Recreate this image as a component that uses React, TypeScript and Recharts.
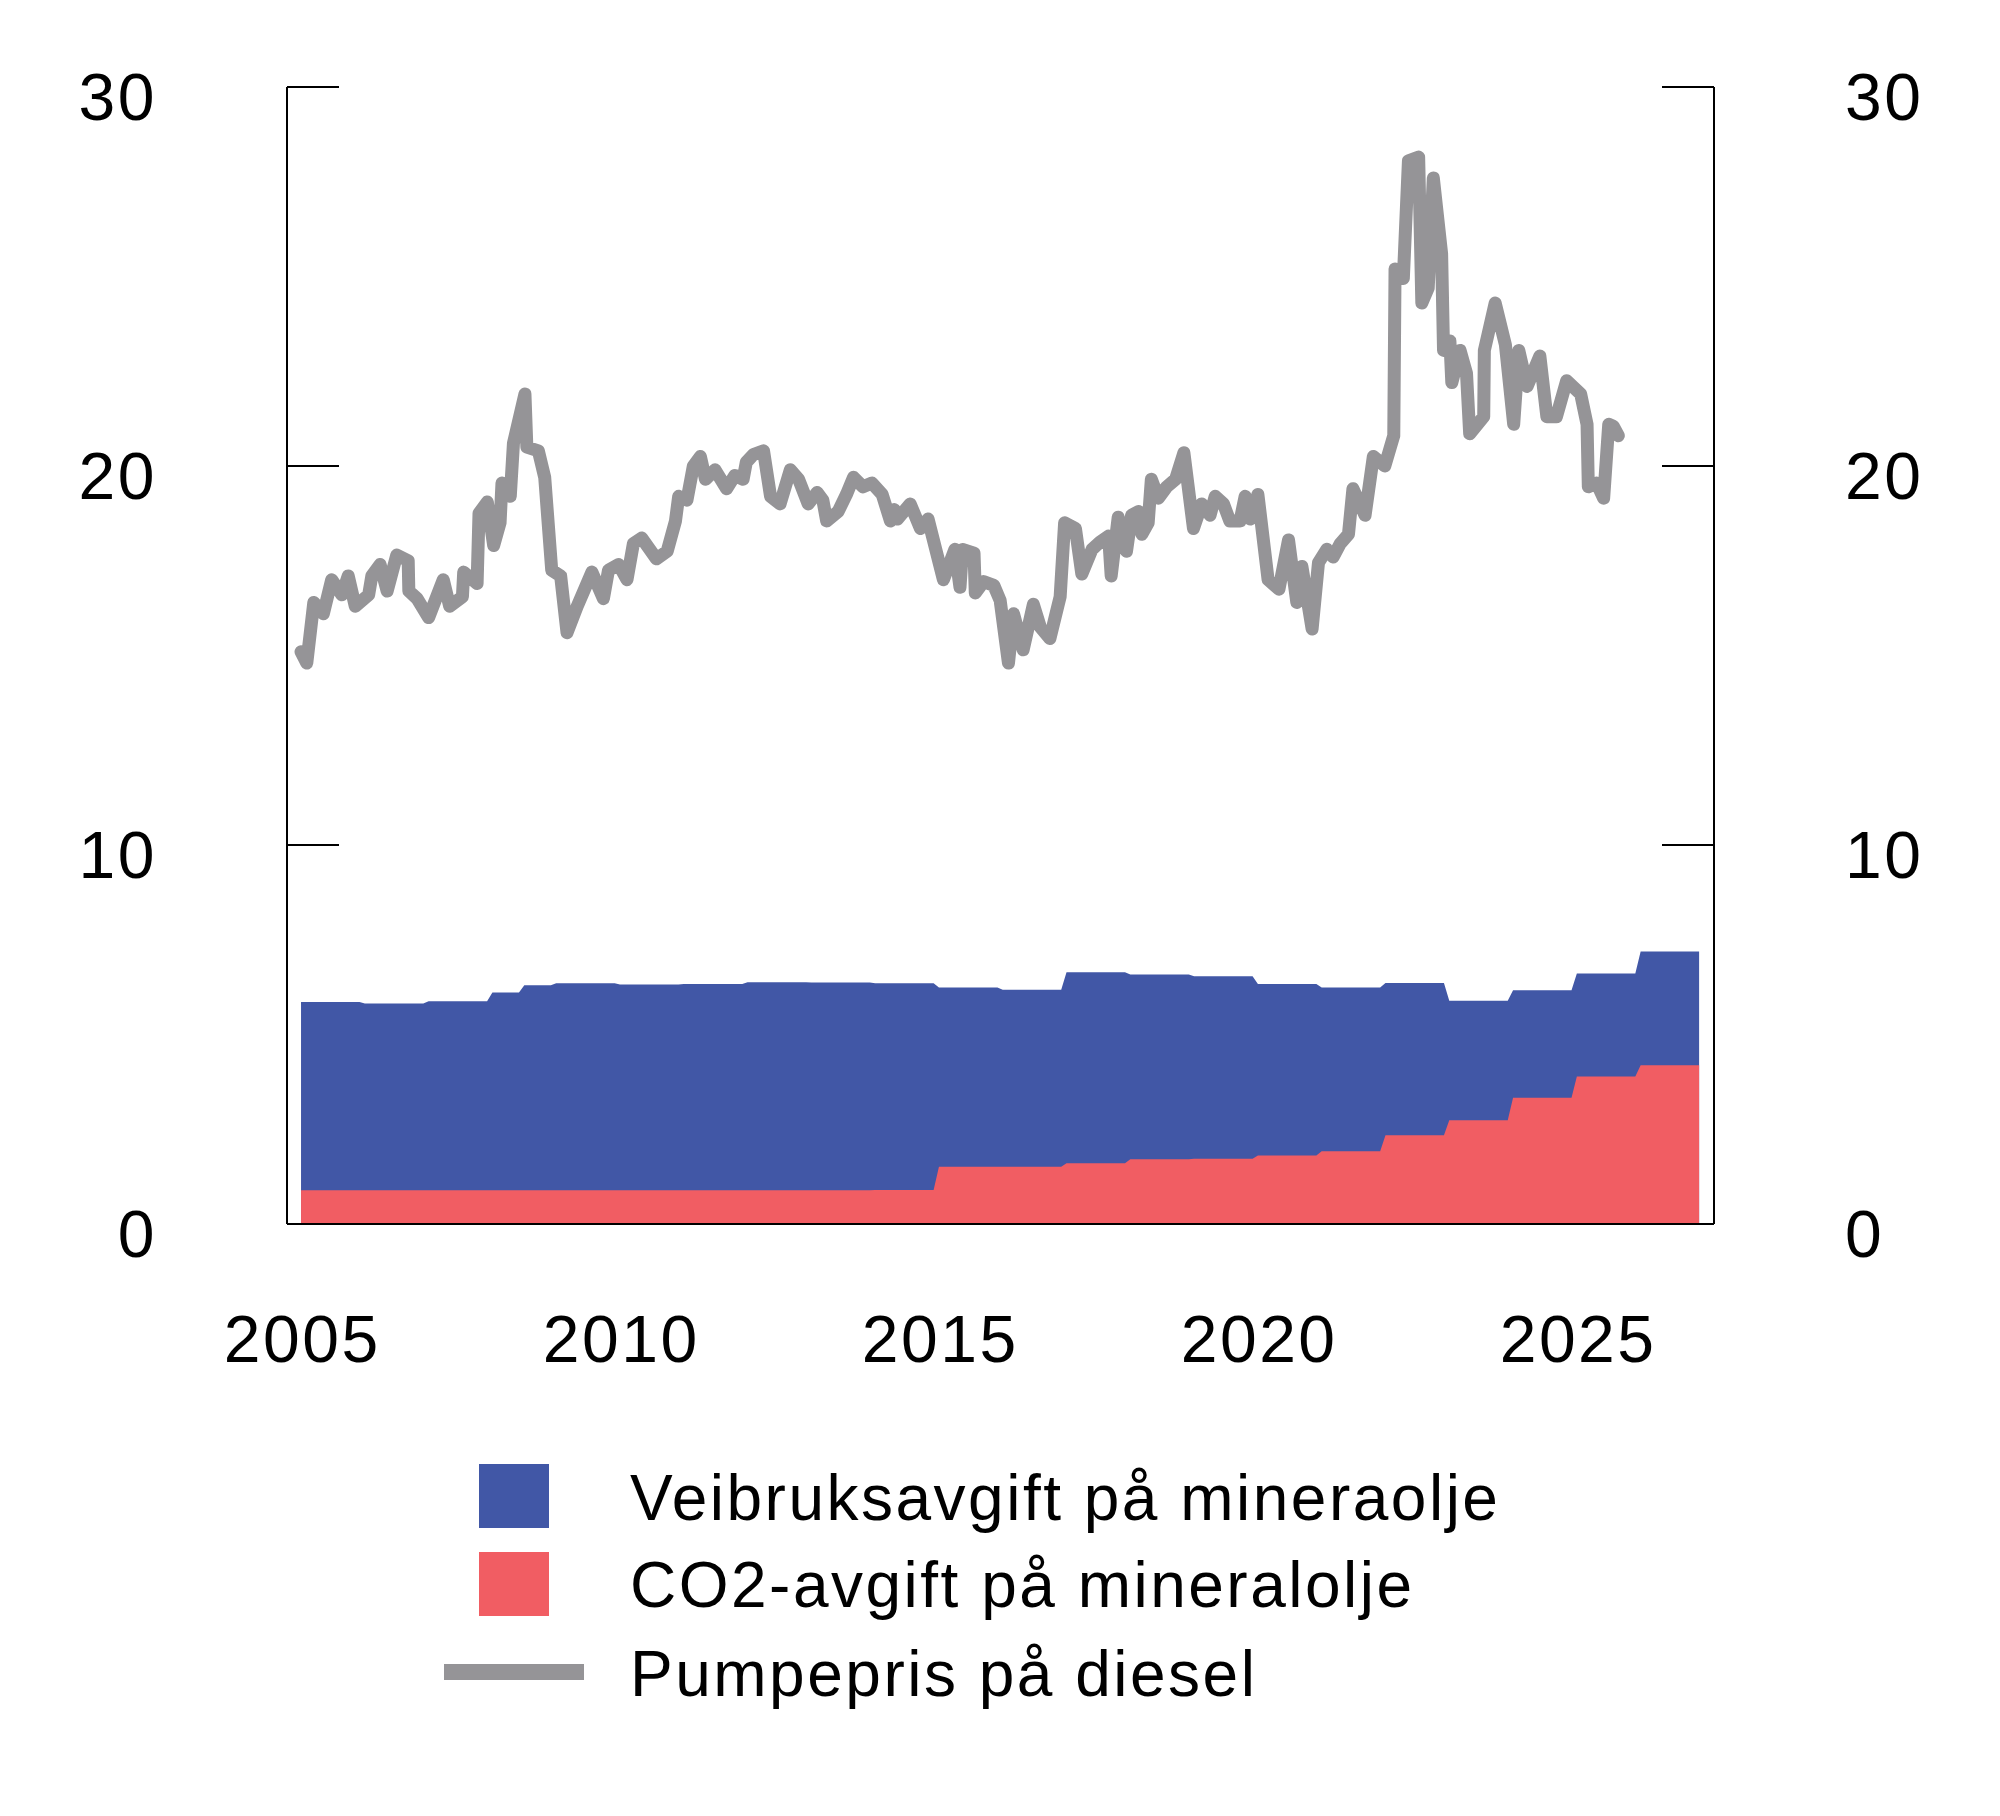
import React from "react"
import {
  ComposedChart,
  Area,
  Line,
  XAxis,
  YAxis
} from "recharts"

// Tax components (NOK per litre), one value per period
const taxPeriods: [number, number][] = [
  [2005, 2005 + 11 / 12],
  [2006, 2006 + 11 / 12],
  [2007, 2007 + 11 / 12],
  [2008, 2008 + 5 / 12],
  [2008.5, 2008 + 11 / 12],
  [2009, 2009 + 11 / 12],
  [2010, 2010 + 11 / 12],
  [2011, 2011 + 11 / 12],
  [2012, 2012 + 11 / 12],
  [2013, 2013 + 11 / 12],
  [2014, 2014 + 11 / 12],
  [2015, 2015 + 11 / 12],
  [2016, 2016 + 11 / 12],
  [2017, 2017 + 11 / 12],
  [2018, 2018 + 11 / 12],
  [2019, 2019 + 11 / 12],
  [2020, 2020 + 11 / 12],
  [2021, 2021 + 11 / 12],
  [2022, 2022 + 11 / 12],
  [2023, 2023 + 11 / 12],
  [2024, 2024 + 11 / 12],
  [2025, 2025 + 11 / 12],
  [2026, 2026 + 11 / 12]
]
const co2Tax = [
  0.89, 0.89, 0.89, 0.89, 0.89, 0.89, 0.89, 0.89, 0.89, 0.89, 0.9, 1.51,
  1.51, 1.6, 1.71, 1.72, 1.81, 1.92, 2.34, 2.74, 3.33, 3.89, 4.19
]
const roadTax = [
  4.97, 4.93, 4.99, 5.22, 5.41, 5.46, 5.43, 5.44, 5.49, 5.48, 5.45, 4.73,
  4.67, 5.04, 4.87, 4.82, 4.52, 4.32, 4.02, 3.15, 2.84, 2.72, 3.0
]

// Pump price of diesel
const priceTime = [
  2005.0, 2005.09, 2005.2, 2005.35, 2005.48, 2005.64, 2005.74, 2005.85,
  2006.06, 2006.11, 2006.24, 2006.35, 2006.5, 2006.68, 2006.69, 2006.82,
  2007.0, 2007.23, 2007.33, 2007.53, 2007.55, 2007.76, 2007.79, 2007.92,
  2008.02, 2008.12, 2008.15, 2008.28, 2008.33, 2008.51, 2008.54, 2008.72,
  2008.82, 2008.93, 2009.07, 2009.17, 2009.33, 2009.56, 2009.74, 2009.82,
  2009.98, 2010.11, 2010.21, 2010.34, 2010.57, 2010.74, 2010.87, 2010.92,
  2011.05, 2011.15, 2011.26, 2011.34, 2011.49, 2011.67, 2011.8, 2011.93,
  2011.98, 2012.09, 2012.25, 2012.36, 2012.51, 2012.67, 2012.8, 2012.95,
  2013.09, 2013.18, 2013.24, 2013.42, 2013.55, 2013.66, 2013.81, 2013.95,
  2014.11, 2014.24, 2014.3, 2014.35, 2014.55, 2014.71, 2014.83, 2015.07,
  2015.25, 2015.33, 2015.37, 2015.55, 2015.57, 2015.7, 2015.86, 2015.96,
  2016.09, 2016.17, 2016.32, 2016.48, 2016.59, 2016.74, 2016.9, 2016.97,
  2017.14, 2017.24, 2017.4, 2017.53, 2017.66, 2017.7, 2017.81, 2017.94,
  2018.02, 2018.13, 2018.18, 2018.28, 2018.33, 2018.44, 2018.57, 2018.71,
  2018.84, 2018.99, 2019.12, 2019.25, 2019.33, 2019.46, 2019.56, 2019.72,
  2019.8, 2019.88, 2020.0, 2020.16, 2020.33, 2020.48, 2020.61, 2020.69,
  2020.85, 2020.95, 2021.08, 2021.18, 2021.29, 2021.42, 2021.49, 2021.68,
  2021.81, 2021.99, 2022.13, 2022.15, 2022.28, 2022.36, 2022.52, 2022.57,
  2022.67, 2022.75, 2022.88, 2022.91, 2023.01, 2023.04, 2023.17, 2023.27,
  2023.32, 2023.54, 2023.55, 2023.72, 2023.88, 2024.01, 2024.09, 2024.22,
  2024.42, 2024.53, 2024.68, 2024.84, 2025.06, 2025.16, 2025.18, 2025.31,
  2025.42, 2025.5, 2025.57, 2025.65
]
const priceValue = [
  15.1, 14.8, 16.4, 16.1, 17.0, 16.6, 17.1, 16.3,
  16.6, 17.1, 17.4, 16.7, 17.65, 17.5, 16.7, 16.5,
  16.0, 17.0, 16.3, 16.55, 17.2, 16.9, 18.75, 19.05,
  17.9, 18.5, 19.55, 19.2, 20.6, 21.9, 20.5, 20.4,
  19.7, 17.25, 17.1, 15.6, 16.3, 17.2, 16.5, 17.25,
  17.4, 17.0, 17.95, 18.1, 17.55, 17.75, 18.55, 19.2,
  19.1, 20.0, 20.25, 19.65, 19.9, 19.4, 19.75, 19.65,
  20.1, 20.3, 20.4, 19.2, 19.0, 19.9, 19.65, 19.0,
  19.3, 19.1, 18.55, 18.8, 19.25, 19.7, 19.45, 19.55,
  19.25, 18.55, 18.85, 18.6, 19.0, 18.35, 18.6, 17.0,
  17.8, 16.8, 17.8, 17.7, 16.65, 16.95, 16.85, 16.45,
  14.8, 16.1, 15.15, 16.35, 15.75, 15.45, 16.55, 18.5,
  18.35, 17.15, 17.8, 18.0, 18.15, 17.1, 18.65, 17.75,
  18.7, 18.8, 18.2, 18.5, 19.65, 19.15, 19.45, 19.65,
  20.35, 18.35, 19.0, 18.7, 19.2, 19.0, 18.55, 18.55,
  19.2, 18.6, 19.25, 17.0, 16.75, 18.05, 16.4, 17.35,
  15.7, 17.45, 17.8, 17.6, 17.95, 18.2, 19.4, 18.7,
  20.25, 20.0, 20.8, 25.2, 24.95, 28.05, 28.15, 24.3,
  24.7, 27.6, 25.6, 23.05, 23.3, 22.2, 23.05, 22.45,
  20.85, 21.3, 23.05, 24.3, 23.2, 21.1, 23.05, 22.1,
  22.9, 21.3, 21.3, 22.25, 21.9, 21.1, 19.45, 19.55,
  19.15, 21.1, 21.05, 20.8
]

const yearTicks = [2005, 2010, 2015, 2020, 2025]
const valueTicks = [0, 10, 20, 30]

const BLUE = "#4157a6"
const RED = "#f15d63"
const GREY = "#959497"
const FONT = "'Liberation Sans', Arial, sans-serif"
const SPACING = 2.5

type Row = { t: number; total?: number; co2?: number; price?: number }

const rows: Row[] = []
taxPeriods.forEach(([from, to], i) => {
  const total = co2Tax[i] + roadTax[i]
  rows.push({ t: from, total, co2: co2Tax[i] })
  rows.push({ t: to, total, co2: co2Tax[i] })
})
priceTime.forEach((t, i) => rows.push({ t, price: priceValue[i] }))
rows.sort((a, b) => a.t - b.t)

const LeftTick = (props: any) => {
  const { x, y, payload } = props
  return (
    <g>
      <line x1={x} x2={x + 52} y1={y} y2={y} stroke="#000" strokeWidth={2} />
      <text x={x - 130} y={y + 33} textAnchor="end" fontSize={66} fontFamily={FONT} letterSpacing={SPACING} fill="#000">
        {payload.value}
      </text>
    </g>
  )
}

const RightTick = (props: any) => {
  const { x, y, payload } = props
  return (
    <g>
      <line x1={x - 52} x2={x} y1={y} y2={y} stroke="#000" strokeWidth={2} />
      <text x={x + 131} y={y + 33} textAnchor="start" fontSize={66} fontFamily={FONT} letterSpacing={SPACING} fill="#000">
        {payload.value}
      </text>
    </g>
  )
}

const YearTick = (props: any) => {
  const { x, y, payload } = props
  return (
    <text x={x + SPACING / 2} y={y + 138} textAnchor="middle" fontSize={66} fontFamily={FONT} letterSpacing={SPACING} fill="#000">
      {payload.value}
    </text>
  )
}

export default function App() {
  return (
    <div style={{ position: "absolute", left: 0, top: 0, width: 2000, height: 1816, background: "#fff" }}>
      <ComposedChart
        width={2000}
        height={1816}
        data={rows}
        margin={{ top: 87, left: 87, right: 86, bottom: 492 }}
      >
        <XAxis
          dataKey="t"
          type="number"
          domain={[2004.78, 2027.15]}
          ticks={yearTicks}
          allowDataOverflow
          height={100}
          tickLine={false}
          tickSize={0}
          tickMargin={0}
          axisLine={{ stroke: "#000", strokeWidth: 2 }}
          tick={<YearTick />}
        />
        <YAxis
          yAxisId="l"
          orientation="left"
          width={200}
          domain={[0, 30]}
          ticks={valueTicks}
          allowDataOverflow
          tickLine={false}
          tickSize={0}
          tickMargin={0}
          axisLine={{ stroke: "#000", strokeWidth: 2 }}
          tick={<LeftTick />}
        />
        <YAxis
          yAxisId="r"
          orientation="right"
          width={200}
          domain={[0, 30]}
          ticks={valueTicks}
          allowDataOverflow
          tickLine={false}
          tickSize={0}
          tickMargin={0}
          axisLine={{ stroke: "#000", strokeWidth: 2 }}
          tick={<RightTick />}
        />

        <Area
          yAxisId="l"
          type="linear"
          dataKey="total"
          stroke="none"
          fill={BLUE}
          fillOpacity={1}
          connectNulls
          isAnimationActive={false}
          activeDot={false}
        />
        <Area
          yAxisId="r"
          type="linear"
          dataKey="co2"
          stroke="none"
          fill={RED}
          fillOpacity={1}
          connectNulls
          isAnimationActive={false}
          activeDot={false}
        />
        <Line
          yAxisId="l"
          type="linear"
          dataKey="price"
          stroke={GREY}
          strokeWidth={13}
          strokeLinejoin="round"
          strokeLinecap="round"
          dot={false}
          activeDot={false}
          connectNulls
          isAnimationActive={false}
        />
      </ComposedChart>

      <svg
        width={2000}
        height={1816}
        style={{ position: "absolute", left: 0, top: 0, pointerEvents: "none" }}
      >
        <rect x={479} y={1464} width={70} height={64} fill={BLUE} />
        <text x={630} y={1520} fontSize={64} fontFamily={FONT} letterSpacing={SPACING} fill="#000">
          Veibruksavgift på mineraolje
        </text>
        <rect x={479} y={1552} width={70} height={64} fill={RED} />
        <text x={630} y={1607} fontSize={64} fontFamily={FONT} letterSpacing={SPACING} fill="#000">
          CO2-avgift på mineralolje
        </text>
        <rect x={444} y={1664} width={140} height={16} fill={GREY} />
        <text x={630} y={1696} fontSize={64} fontFamily={FONT} letterSpacing={SPACING} fill="#000">
          Pumpepris på diesel
        </text>
      </svg>
    </div>
  )
}
